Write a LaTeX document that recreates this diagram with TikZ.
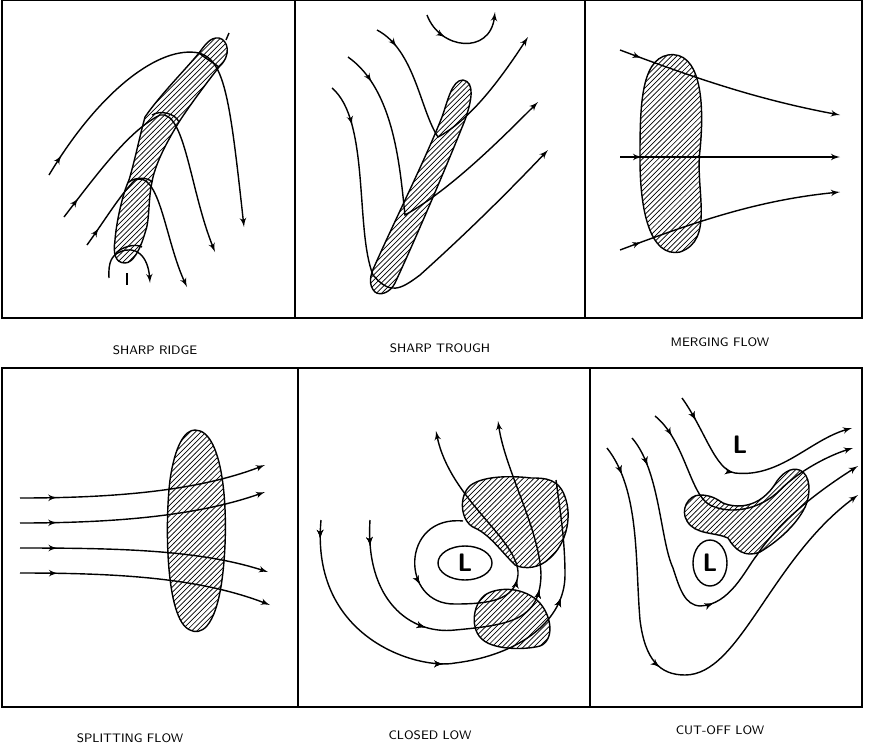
\documentclass[tikz,border=0pt]{standalone}
\usetikzlibrary{arrows,patterns,decorations.markings}
\begin{document}
\begin{tikzpicture}
[x=0.02cm,y=-0.02cm,
every node/.style={font=\sffamily\scriptsize},
flow/.style={->,>=latex',thick},
midflow/.style={thick,decoration={markings,mark=at position #1 with {\arrow{latex'}}},postaction={decorate}},
hatch/.style={draw,thick,pattern=north east lines,fill opacity=1},
panel/.style={draw,thick}]
\useasboundingbox (0,0) rectangle (883,754);
%% frames
\draw[panel] (2,0) rectangle (295,318);
\draw[panel] (295,0) rectangle (585,318);
\draw[panel] (585,0) rectangle (862,318);
\draw[panel] (2,368) rectangle (298,707);
\draw[panel] (298,368) rectangle (590,707);
\draw[panel] (590,368) rectangle (862,707);
%% labels
\node (ridge) at (155,350) {SHARP RIDGE};
\node (trough) at (440,348) {SHARP TROUGH};
\node (merge) at (720,342) {MERGING FLOW};
\node (split) at (130,738) {SPLITTING FLOW};
\node (closed) at (430,735) {CLOSED LOW};
\node (cutoff) at (720,730) {CUT-OFF LOW};
%%
%% sharp ridge
\draw[hatch] (219,38) .. controls (228,40) and (232,55) .. (219,67) .. controls (205,85) and (190,105) .. (179,122)
  .. controls (165,145) and (155,165) .. (152,182) .. controls (148,200) and (150,220) .. (145,233)
  .. controls (140,250) and (133,263) .. (125,263) .. controls (115,263) and (113,253) .. (115,240)
  .. controls (116,225) and (122,195) .. (129,180) .. controls (135,160) and (140,135) .. (145,117)
  .. controls (160,95) and (185,70) .. (199,53) .. controls (205,45) and (210,37) .. (219,38) -- cycle;
\draw[thick] (199,53) .. controls (205,58) and (212,62) .. (219,67);
\draw[thick] (152,115) .. controls (160,110) and (175,113) .. (179,122);
\draw[thick] (129,182) .. controls (135,177) and (148,177) .. (152,182);
\draw[thick] (116,253) .. controls (122,247) and (135,243) .. (142,247);
\draw[thick] (226,40) -- (229,33);
\draw[thick] (127,273) -- (127,285);
\draw[flow,midflow=0.06] (49,175) .. controls (100,90) and (160,45) .. (199,53) .. controls (225,60) and (230,100) .. (244,227);
\draw[flow,midflow=0.08] (64,217) .. controls (100,170) and (130,130) .. (160,115) .. controls (185,110) and (190,190) .. (215,252);
\draw[flow,midflow=0.1] (87,245) .. controls (105,220) and (120,195) .. (135,180) .. controls (160,170) and (165,240) .. (187,287);
\draw[flow] (109,278) .. controls (108,262) and (112,255) .. (120,252) .. controls (135,245) and (148,255) .. (150,283);
%%
%% sharp trough
\draw[hatch] (463,80) .. controls (475,82) and (472,100) .. (465,120) .. controls (445,170) and (415,240) .. (395,283)
  .. controls (390,293) and (380,296) .. (375,292) .. controls (368,285) and (370,275) .. (375,265)
  .. controls (395,220) and (425,160) .. (442,117) .. controls (448,100) and (452,80) .. (463,80) -- cycle;
\draw[flow,midflow=0.3] (427,15) .. controls (440,50) and (490,55) .. (495,12);
\draw[flow,midflow=0.1] (377,30) .. controls (415,50) and (420,110) .. (438,137) .. controls (470,120) and (500,80) .. (528,37);
\draw[flow,midflow=0.1] (348,57) .. controls (395,90) and (400,170) .. (405,215) .. controls (450,190) and (500,140) .. (538,102);
\draw[flow,midflow=0.1] (332,88) .. controls (370,120) and (355,230) .. (373,275) .. controls (390,295) and (400,290) .. (420,275)
  .. controls (470,230) and (510,190) .. (548,150);
%%
%% merging flow
\draw[hatch] (668,55) .. controls (700,50) and (705,100) .. (700,150) .. controls (695,190) and (715,240) .. (680,252)
  .. controls (650,258) and (640,210) .. (640,160) .. controls (640,110) and (640,60) .. (668,55) -- cycle;
\draw[flow,midflow=0.1] (620,50) .. controls (700,80) and (760,100) .. (840,115);
\draw[flow,midflow=0.1] (620,157) -- (840,157);
\draw[flow,midflow=0.1] (620,250) .. controls (700,220) and (760,200) .. (840,192);
%%
%% splitting flow
\draw[hatch] (195,430) .. controls (225,430) and (230,520) .. (222,580) .. controls (215,630) and (200,635) .. (190,630)
  .. controls (165,620) and (165,520) .. (170,480) .. controls (175,445) and (185,430) .. (195,430) -- cycle;
\draw[flow,midflow=0.15] (20,498) .. controls (120,498) and (200,490) .. (265,465);
\draw[flow,midflow=0.15] (20,523) .. controls (120,523) and (200,515) .. (265,492);
\draw[flow,midflow=0.15] (20,548) .. controls (120,548) and (200,550) .. (268,572);
\draw[flow,midflow=0.15] (20,573) .. controls (120,573) and (200,578) .. (270,605);
%%
%% closed low
\draw[hatch] (471,485) .. controls (485,475) and (515,476) .. (531,478) .. controls (545,478) and (560,478) .. (566,500)
  .. controls (572,520) and (565,545) .. (550,558) .. controls (540,568) and (525,570) .. (515,565)
  .. controls (500,550) and (490,535) .. (475,528) .. controls (460,522) and (458,495) .. (471,485) -- cycle;
\draw[hatch] (485,595) .. controls (495,588) and (520,585) .. (538,601) .. controls (552,615) and (555,640) .. (540,646)
  .. controls (525,650) and (495,650) .. (483,640) .. controls (470,630) and (472,605) .. (485,595) -- cycle;
\draw[thick] (465,563) ellipse (27 and 17);
\node[font=\sffamily\Large\bfseries] (lowa) at (465,563) {L};
\draw[flow,midflow=0.25,midflow=0.55] (463,521) .. controls (400,515) and (400,605) .. (455,604)
  .. controls (490,604) and (515,600) .. (518,575) .. controls (520,540) and (450,500) .. (436,431);
\draw[flow,midflow=0.06,midflow=0.3,midflow=0.6] (370,520) .. controls (365,600) and (410,635) .. (455,630)
  .. controls (510,625) and (540,620) .. (541,575) .. controls (540,530) and (505,470) .. (498,421);
\draw[midflow=0.04,midflow=0.45,midflow=0.75] (321,520) .. controls (310,640) and (420,670) .. (455,663)
  .. controls (520,655) and (565,620) .. (565,575) .. controls (565,540) and (560,510) .. (556,480);
%%
%% cut-off low
\node[font=\sffamily\Large\bfseries] (lowb) at (740,445) {L};
\draw[hatch] (700,495) .. controls (712,495) and (718,500) .. (723,503) .. controls (735,508) and (760,510) .. (777,481)
  .. controls (785,470) and (795,466) .. (803,472) .. controls (812,480) and (810,500) .. (803,511)
  .. controls (795,525) and (780,540) .. (760,552) .. controls (745,558) and (735,550) .. (728,538)
  .. controls (715,532) and (695,535) .. (687,521) .. controls (680,510) and (688,495) .. (700,495) -- cycle;
\draw[thick] (710,563) ellipse (17 and 23);
\node[font=\sffamily\Large\bfseries] (lowc) at (710,563) {L};
\draw[flow,midflow=0.12,midflow=0.42] (682,398) .. controls (705,430) and (715,470) .. (735,473) .. controls (780,478) and (810,440) .. (852,428);
\draw[flow,midflow=0.1] (655,416) .. controls (685,440) and (690,495) .. (710,505) .. controls (730,515) and (760,510) .. (780,490)
  .. controls (800,470) and (830,455) .. (853,448);
\draw[flow,midflow=0.08,midflow=0.5] (632,438) .. controls (660,470) and (660,540) .. (673,568) .. controls (680,590) and (685,605) .. (700,606)
  .. controls (730,605) and (745,570) .. (757,555) .. controls (780,520) and (820,490) .. (858,466);
\draw[flow,midflow=0.06,midflow=0.45] (607,448) .. controls (640,490) and (635,560) .. (640,620) .. controls (645,660) and (660,675) .. (685,675)
  .. controls (740,675) and (770,560) .. (858,495);
\end{tikzpicture}
\end{document}
